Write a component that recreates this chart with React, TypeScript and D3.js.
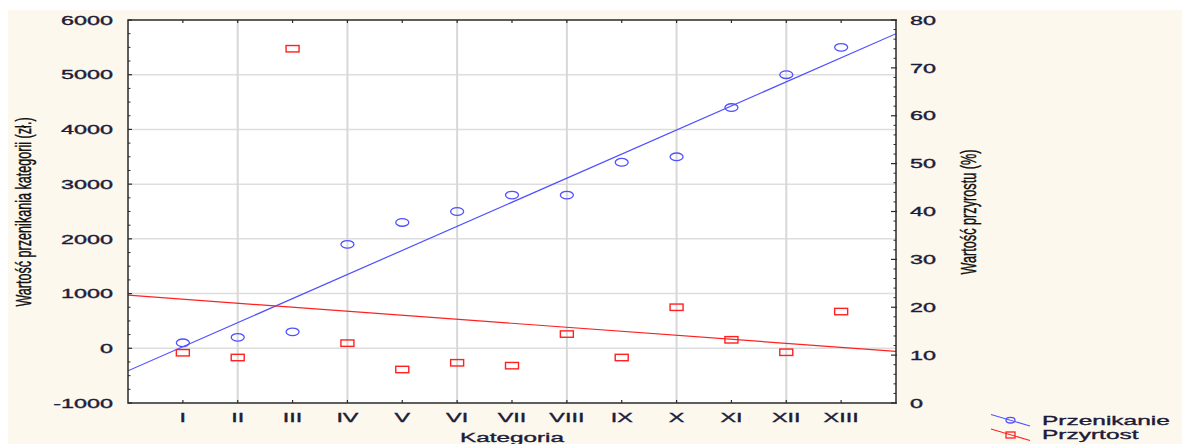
import * as d3 from "d3";

const categories = ["I", "II", "III", "IV", "V", "VI", "VII", "VIII", "IX", "X", "XI", "XII", "XIII"];
const przenikanie = [100, 200, 300, 1900, 2300, 2500, 2800, 2800, 3400, 3500, 4400, 5000, 5500];
const przyrost = [10.5, 9.5, 74, 12.5, 7, 8.4, 7.8, 14.4, 9.5, 20, 13.2, 10.6, 19.1];
const leftTicks = [-1000, 0, 1000, 2000, 3000, 4000, 5000, 6000];
const rightTicks = [0, 10, 20, 30, 40, 50, 60, 70, 80];

const W = 1182;
const H = 444;
const plot = { left: 128, top: 20, right: 896, bottom: 403 };
const SX = 1.8; // the reference is stretched horizontally
const textColor = "#1c1c38";
const blue = "#5050ff";
const red = "#ff2020";
const font = "'Liberation Sans', Arial, sans-serif";

// least squares fit, drawn across the full x range
function fit(values: number[]) {
  const xs = values.map((_, i) => i + 1);
  const mx = d3.mean(xs)!;
  const my = d3.mean(values)!;
  const sxy = d3.sum(xs, (x, i) => (x - mx) * (values[i] - my));
  const sxx = d3.sum(xs, (x) => (x - mx) ** 2);
  const b = sxy / sxx;
  return (x: number) => my + b * (x - mx);
}

export default function App() {
  const x = d3.scaleLinear().domain([0, categories.length + 1]).range([plot.left, plot.right]);
  const yL = d3.scaleLinear().domain([-1000, 6000]).range([plot.bottom, plot.top]);
  const yR = d3.scaleLinear().domain([0, 80]).range([plot.bottom, plot.top]);

  const fitL = fit(przenikanie);
  const fitR = fit(przyrost);
  const x0 = 0;
  const x1 = categories.length + 1;
  const lineL = d3.line<number>().x((d) => x(d)).y((d) => yL(fitL(d)));
  const lineR = d3.line<number>().x((d) => x(d)).y((d) => yR(fitR(d)));

  const leftMinor = d3.range(-1000, 6001, 250).filter((v) => v % 1000 !== 0);
  const rightMinor = d3.range(0, 81, 2).filter((v) => v % 10 !== 0);

  const label = { fill: textColor, stroke: textColor, strokeWidth: 0.35 };

  return (
    <svg width={W} height={H} style={{ position: "absolute", left: 0, top: 0 }} fontFamily={font}>
      <rect x={0} y={0} width={W} height={H} fill="#ffffff" />
      <rect x={8} y={10} width={W - 8} height={H - 10} fill="#fdf8ee" />
      <defs>
        <clipPath id="plotClip">
          <rect x={plot.left} y={plot.top} width={plot.right - plot.left} height={plot.bottom - plot.top} />
        </clipPath>
      </defs>
      <rect x={plot.left} y={plot.top} width={plot.right - plot.left} height={plot.bottom - plot.top} fill="#ffffff" />

      {/* grid */}
      {leftTicks.slice(1, -1).map((t) => (
        <line key={"hg" + t} x1={plot.left} x2={plot.right} y1={yL(t)} y2={yL(t)} stroke="#dedede" strokeWidth={1.5} />
      ))}
      {categories.map((c, i) =>
        (i + 1) % 2 === 0 ? (
          <line key={"vg" + c} x1={x(i + 1)} x2={x(i + 1)} y1={plot.top} y2={plot.bottom} stroke="#d8d8d8" strokeWidth={2} />
        ) : null
      )}

      {/* fit lines */}
      <g clipPath="url(#plotClip)">
        <path d={lineL([x0, x1])!} stroke={blue} strokeWidth={1.2} fill="none" />
        <path d={lineR([x0, x1])!} stroke={red} strokeWidth={1.2} fill="none" />
      </g>

      {/* markers */}
      {przenikanie.map((v, i) => (
        <ellipse key={"c" + i} cx={x(i + 1)} cy={yL(v)} rx={6.5} ry={3.8} fill="none" stroke={blue} strokeWidth={1.3} />
      ))}
      {przyrost.map((v, i) => (
        <rect key={"s" + i} x={x(i + 1) - 6.5} y={yR(v) - 3.2} width={13} height={6.4} fill="none" stroke={red} strokeWidth={1.4} />
      ))}

      {/* frame */}
      <rect x={plot.left} y={plot.top} width={plot.right - plot.left} height={plot.bottom - plot.top} fill="none" stroke="#2a2a2a" strokeWidth={1.5} />

      {/* left axis ticks */}
      {leftTicks.map((t) => (
        <g key={"lt" + t}>
          <line x1={plot.left} x2={plot.left + 4} y1={yL(t)} y2={yL(t)} stroke="#2a2a2a" strokeWidth={1.2} />
          <text transform={`translate(113,${yL(t)}) scale(${SX},1)`} textAnchor="end" dy="0.36em" fontSize={13} {...label}>
            {t}
          </text>
        </g>
      ))}
      {leftMinor.map((t) => (
        <line key={"lm" + t} x1={plot.left} x2={plot.left + 2.5} y1={yL(t)} y2={yL(t)} stroke="#2a2a2a" strokeWidth={1} />
      ))}

      {/* right axis ticks */}
      {rightTicks.map((t) => (
        <g key={"rt" + t}>
          <line x1={plot.right - 5} x2={plot.right + 1} y1={yR(t)} y2={yR(t)} stroke="#2a2a2a" strokeWidth={1.2} />
          <text transform={`translate(910,${yR(t)}) scale(${SX},1)`} textAnchor="start" dy="0.36em" fontSize={13} {...label}>
            {t}
          </text>
        </g>
      ))}
      {rightMinor.map((t) => (
        <line key={"rm" + t} x1={plot.right - 2.5} x2={plot.right} y1={yR(t)} y2={yR(t)} stroke="#2a2a2a" strokeWidth={1} />
      ))}

      {/* category ticks top and bottom */}
      {categories.map((c, i) => (
        <g key={"xt" + c}>
          <line x1={x(i + 1)} x2={x(i + 1)} y1={plot.bottom} y2={plot.bottom - 3} stroke="#2a2a2a" strokeWidth={1.2} />
          <line x1={x(i + 1)} x2={x(i + 1)} y1={plot.top} y2={plot.top + 3} stroke="#2a2a2a" strokeWidth={1.2} />
          <text transform={`translate(${x(i + 1)},417) scale(${SX},1)`} textAnchor="middle" dy="0.36em" fontSize={13} {...label}>
            {c}
          </text>
        </g>
      ))}

      {/* axis titles */}
      <text transform={`translate(512,437) scale(${SX},1)`} textAnchor="middle" dy="0.36em" fontSize={13.5} {...label}>
        Kategoria
      </text>
      <text transform={`translate(23,212) scale(1.7,1) rotate(-90)`} textAnchor="middle" dy="0.36em" fontSize={12.6} fill="#111" stroke="#111" strokeWidth={0.25}>
        Wartość przenikania kategorii (zł.)
      </text>
      <text transform={`translate(968,212) scale(1.7,1) rotate(-90)`} textAnchor="middle" dy="0.36em" fontSize={12.7} fill="#111" stroke="#111" strokeWidth={0.25}>
        Wartość przyrostu (%)
      </text>

      {/* legend */}
      <line x1={991} y1={414.5} x2={1030} y2={426} stroke={blue} strokeWidth={1.1} />
      <ellipse cx={1010.5} cy={420.2} rx={4.5} ry={2.8} fill="none" stroke={blue} strokeWidth={1.3} />
      <text transform={`translate(1042,420) scale(${SX},1)`} dy="0.36em" fontSize={13.6} {...label}>
        Przenikanie
      </text>
      <line x1={991} y1={429} x2={1030} y2={440.5} stroke={red} strokeWidth={1.1} />
      <rect x={1006} y={432} width={9} height={6} fill="none" stroke={red} strokeWidth={1.3} />
      <text transform={`translate(1042,434) scale(${SX},1)`} dy="0.36em" fontSize={13.6} {...label}>
        Przyrtost
      </text>
    </svg>
  );
}
